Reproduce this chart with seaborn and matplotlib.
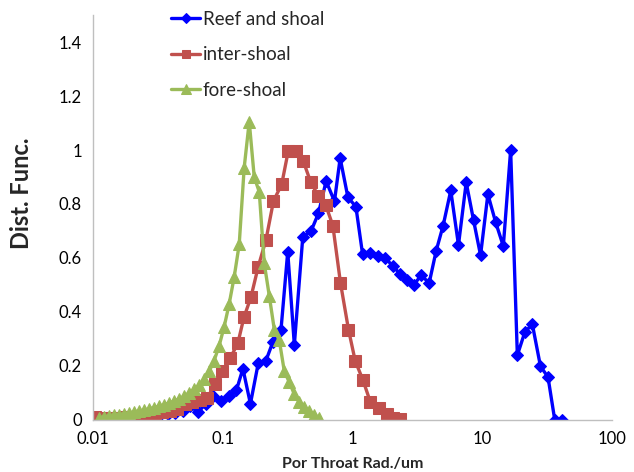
import matplotlib
matplotlib.use("Agg")
import matplotlib.pyplot as plt
import seaborn as sns
import pandas as pd
from matplotlib.ticker import FixedLocator, FixedFormatter, NullLocator

sns.set_theme(style="white")
plt.rcParams['font.family'] = ['Lato', 'DejaVu Sans']

# ---- data ----
reef_x = [0.01132, 0.01295, 0.01479, 0.01690, 0.01931, 0.02207, 0.02522, 0.02883,
          0.03294, 0.03764, 0.04302, 0.04915, 0.05618, 0.06477, 0.07402, 0.08459,
          0.09667, 0.1115, 0.1274, 0.1430, 0.1634, 0.1877, 0.2153, 0.2438, 0.2812,
          0.3168, 0.3562, 0.4137, 0.4795, 0.5461, 0.6262, 0.7260, 0.8032, 0.9214,
          1.062, 1.195, 1.370, 1.572, 1.789, 2.045, 2.337, 2.633, 2.961, 3.396,
          3.894, 4.411, 4.995, 5.719, 6.557, 7.522, 8.567, 9.703, 11.05, 12.67,
          14.53, 16.55, 18.64, 21.34, 24.34, 28.07, 32.14, 36.21, 41.52]
reef_y = [0.003, 0.004, 0.005, 0.006, 0.008, 0.010, 0.012, 0.015,
          0.018, 0.022, 0.027, 0.035, 0.050, 0.030, 0.060, 0.090,
          0.070, 0.090, 0.110, 0.190, 0.060, 0.210, 0.220, 0.290, 0.335,
          0.623, 0.278, 0.677, 0.700, 0.765, 0.885, 0.810, 0.970, 0.825,
          0.790, 0.615, 0.620, 0.607, 0.600, 0.570, 0.540, 0.520, 0.500, 0.537,
          0.506, 0.626, 0.720, 0.850, 0.648, 0.880, 0.740, 0.610, 0.836, 0.733,
          0.644, 1.000, 0.240, 0.327, 0.354, 0.200, 0.158, 0.000, 0.000]

inter_x = [0.01027, 0.01174, 0.01341, 0.01533, 0.01751, 0.02001, 0.02288, 0.02615,
           0.02988, 0.03413, 0.03901, 0.04457, 0.05093, 0.05822, 0.06653, 0.07603,
           0.08689, 0.09929, 0.1145, 0.1308, 0.1456, 0.1649, 0.1877, 0.2153,
           0.2460, 0.2847, 0.3202, 0.3672, 0.4181, 0.4770, 0.5460, 0.6208,
           0.7055, 0.8077, 0.9313, 1.049, 1.203, 1.370, 1.588, 1.845, 2.063, 2.337]
inter_y = [0.012, 0.008, 0.008, 0.009, 0.010, 0.012, 0.015, 0.018,
           0.022, 0.030, 0.035, 0.040, 0.060, 0.068, 0.074, 0.080,
           0.135, 0.180, 0.230, 0.285, 0.380, 0.455, 0.568, 0.667,
           0.811, 0.873, 0.998, 0.998, 0.958, 0.880, 0.830, 0.797,
           0.720, 0.508, 0.335, 0.219, 0.148, 0.068, 0.046, 0.022, 0.008, 0.003]

fore_x = [0.01109, 0.01212, 0.01325, 0.01448, 0.01583, 0.01730, 0.01891, 0.02067,
          0.02259, 0.02469, 0.02699, 0.02950, 0.03225, 0.03524, 0.03852, 0.04211,
          0.04603, 0.05031, 0.05499, 0.06012, 0.06571, 0.07182, 0.07851, 0.08581,
          0.09380, 0.1025, 0.1121, 0.1225, 0.1339, 0.1463, 0.1600, 0.1748, 0.1911,
          0.2089, 0.2283, 0.2496, 0.2728, 0.2982, 0.3259, 0.3563, 0.3894, 0.4256,
          0.4652, 0.5085, 0.5559]
fore_y = [0.008, 0.012, 0.014, 0.017, 0.020, 0.023, 0.026, 0.030,
          0.033, 0.037, 0.041, 0.046, 0.051, 0.057, 0.063, 0.070,
          0.078, 0.088, 0.100, 0.113, 0.128, 0.150, 0.180, 0.220,
          0.275, 0.345, 0.430, 0.530, 0.650, 0.935, 1.105, 0.900, 0.845,
          0.580, 0.460, 0.335, 0.295, 0.180, 0.140, 0.095, 0.065, 0.048,
          0.032, 0.020, 0.007]

series_names = ["Reef and shoal", "inter-shoal", "fore-shoal"]
x_ticks = [0.01, 0.1, 1, 10, 100]
x_tick_labels = ["0.01", "0.1", "1", "10", "100"]
y_ticks = [0, 0.2, 0.4, 0.6, 0.8, 1.0, 1.2, 1.4]
y_tick_labels = ["0", "0.2", "0.4", "0.6", "0.8", "1", "1.2", "1.4"]

colors = ["#0000FF", "#C0504D", "#9BBB59"]
markers = ["D", "s", "^"]
msizes = [6.5, 8, 8.5]

fig = plt.figure(figsize=(6.34, 4.72), dpi=100)
ax = fig.add_axes([0.1467, 0.1102, 0.8186, 0.858])

for name, xs, ys, c, m, ms in zip(series_names,
                                   [reef_x, inter_x, fore_x],
                                   [reef_y, inter_y, fore_y],
                                   colors, markers, msizes):
    df = pd.DataFrame({"x": xs, "y": ys})
    sns.lineplot(data=df, x="x", y="y", ax=ax, color=c, marker=m,
                 markersize=ms, markeredgecolor=c, linewidth=2.4,
                 label=name, sort=False, estimator=None)

ax.set_xscale("log")
ax.set_xlim(0.01, 100)
ax.set_ylim(0, 1.5)
ax.xaxis.set_major_locator(FixedLocator(x_ticks))
ax.xaxis.set_major_formatter(FixedFormatter(x_tick_labels))
ax.xaxis.set_minor_locator(NullLocator())
ax.yaxis.set_major_locator(FixedLocator(y_ticks))
ax.yaxis.set_major_formatter(FixedFormatter(y_tick_labels))
ax.tick_params(axis="both", length=0, labelsize=12, colors="#000000", pad=8)

for s in ["top", "right"]:
    ax.spines[s].set_visible(False)
for s in ["left", "bottom"]:
    ax.spines[s].set_color("#BFBFBF")
    ax.spines[s].set_linewidth(1.0)
ax.grid(False)

ax.set_xlabel("Por Throat Rad./um", fontsize=11.5, fontweight="bold", labelpad=7)
ax.set_ylabel("Dist. Func.", fontsize=17, fontweight="bold")
ax.yaxis.set_label_coords(-0.115, 0.56)

leg = ax.legend(loc="upper left", bbox_to_anchor=(0.118, 1.052), frameon=False,
                fontsize=13.5, handlelength=1.55, handletextpad=0.15,
                labelspacing=0.98, markerscale=0.8)

fig.savefig("out.png", dpi=100)
